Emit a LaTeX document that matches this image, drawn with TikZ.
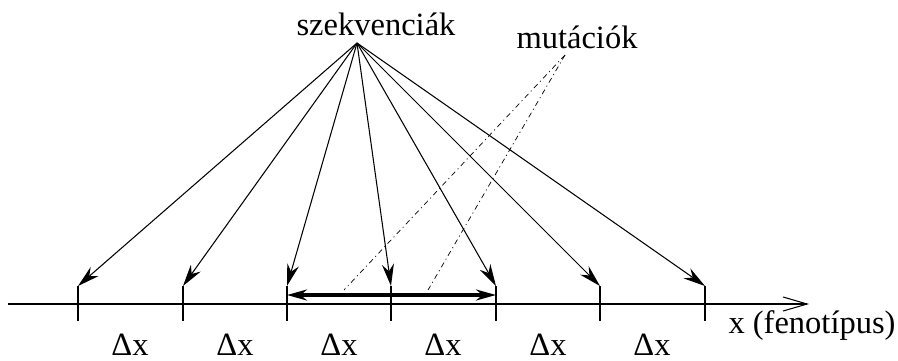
\documentclass[tikz,border=0pt]{standalone}
\usepackage{fontspec}
\setmainfont{Liberation Serif}
\usetikzlibrary{arrows.meta}

\begin{document}
\begin{tikzpicture}[x=0.02cm, y=-0.02cm,
    line width=0.6pt,
    seq/.style={-{Stealth[length=0.44cm, width=0.24cm]}},
    mut/.style={dash dot, line width=0.4pt},
    tick/.style={line width=0.6pt},
    span/.style={{Stealth[length=0.4cm, width=0.22cm]}-{Stealth[length=0.4cm, width=0.22cm]}, line width=1.8pt},
    lbl/.style={anchor=base, inner sep=0pt, font=\fontsize{18.5}{22}\selectfont}]
\useasboundingbox (0,0) rectangle (898,360);
% labels
\node[lbl] (szek) at (376,35) {szekvenciák};
\node[lbl] (muta) at (577,48) {mutációk};
\node[lbl] (feno) at (812,333) {x (fenotípus)};
\coordinate (s0) at (357,43);
\coordinate (m0) at (565,55);
% axis
\coordinate (x0) at (8,304);
\coordinate (x1) at (809,304);
\coordinate (h1) at (653,304);
\coordinate (h2) at (705,304);
\draw[-{Straight Barb[length=0.48cm, width=0.28cm]}] (x0) -- (x1);
\draw[line width=1.1pt] (h1) -- (h2);
% ticks
\coordinate (t1) at (78,286);  \coordinate (b1) at (78,321);
\coordinate (t2) at (183,286); \coordinate (b2) at (183,321);
\coordinate (t3) at (287,286); \coordinate (b3) at (287,321);
\coordinate (t4) at (391,286); \coordinate (b4) at (391,321);
\coordinate (t5) at (496,286); \coordinate (b5) at (496,321);
\coordinate (t6) at (600,286); \coordinate (b6) at (600,321);
\coordinate (t7) at (705,286); \coordinate (b7) at (705,321);
\draw[tick] (t1) -- (b1) (t2) -- (b2) (t3) -- (b3) (t4) -- (b4)
    (t5) -- (b5) (t6) -- (b6) (t7) -- (b7);
% sequences
\draw[seq] (s0) -- (t1);
\draw[seq] (s0) -- (t2);
\draw[seq] (s0) -- (t3);
\draw[seq] (s0) -- (t4);
\draw[seq] (s0) -- (t5);
\draw[seq] (s0) -- (t6);
\draw[seq] (s0) -- (t7);
% mutations
\coordinate (m1) at (344,290);
\coordinate (m2) at (428,290);
\draw[mut] (m0) -- (m1);
\draw[mut] (m0) -- (m2);
\coordinate (w1) at (287,295);
\coordinate (w2) at (496,295);
\draw[span] (w1) -- (w2);
% steps
\node[lbl] (d1) at (130,355) {Δx};
\node[lbl] (d2) at (235,355) {Δx};
\node[lbl] (d3) at (339,355) {Δx};
\node[lbl] (d4) at (443,355) {Δx};
\node[lbl] (d5) at (548,355) {Δx};
\node[lbl] (d6) at (652,355) {Δx};
\end{tikzpicture}
\end{document}
